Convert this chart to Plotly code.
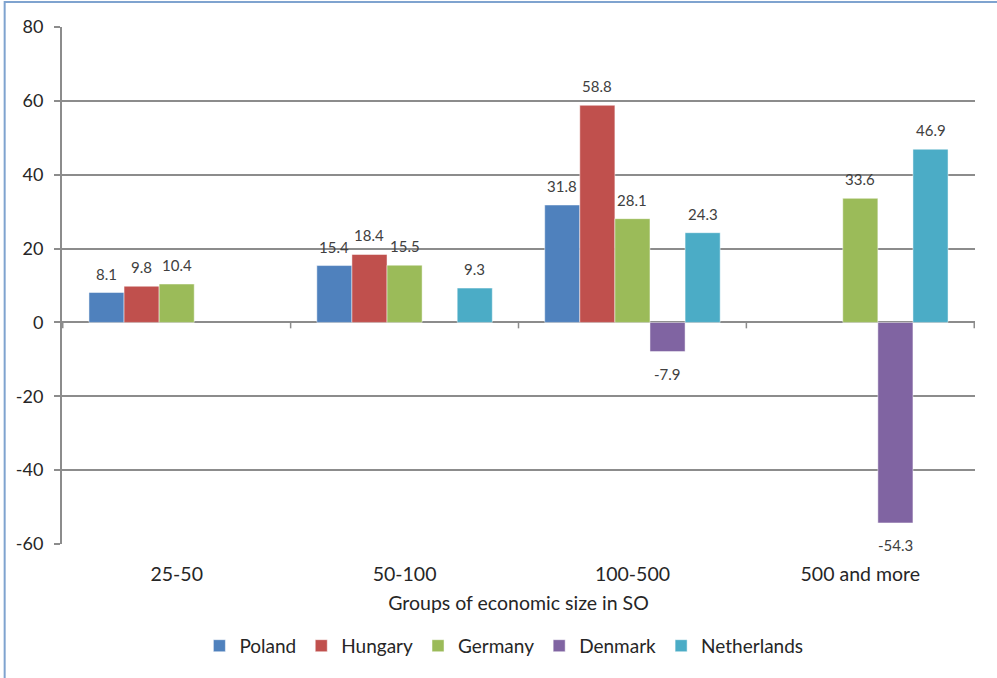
import plotly.graph_objects as go

# Change by group of economic size (SO), per country
categories = ["25-50", "50-100", "100-500", "500 and more"]
poland = [8.1, 15.4, 31.8, None]
hungary = [9.8, 18.4, 58.8, None]
germany = [10.4, 15.5, 28.1, 33.6]
denmark = [None, None, -7.9, -54.3]
netherlands = [None, 9.3, 24.3, 46.9]

series = [
    ("Poland", poland, "#4F81BD"),
    ("Hungary", hungary, "#C0504D"),
    ("Germany", germany, "#9BBB59"),
    ("Denmark", denmark, "#8064A2"),
    ("Netherlands", netherlands, "#4BACC6"),
]

y_ticks = [-60, -40, -20, 0, 20, 40, 60, 80]
FONT = "Lato"
TXT = "#262626"
GRID = "#8C8C8C"

W, H = 997, 678
ML, MR, MT, MB = 62, 22, 27, 134
BARGAP = 0.23

fig = go.Figure()
for name, vals, color in series:
    fig.add_trace(go.Bar(
        name=name,
        x=categories,
        y=vals,
        marker=dict(color=color, line=dict(color="rgba(255,255,255,0.6)", width=0.8)),
        cliponaxis=False,
    ))

# value labels, offset to sit over (or under) their own bar in the group
cat_px = (W - ML - MR) / len(categories)
bar_px = cat_px * (1 - BARGAP) / len(series)
for i, (name, vals, color) in enumerate(series):
    dx = (i - (len(series) - 1) / 2) * bar_px
    for cat, v in zip(categories, vals):
        if v is None:
            continue
        fig.add_annotation(
            x=cat, y=v, xref="x", yref="y", text=f"{v}", showarrow=False,
            xshift=dx, yshift=19 if v >= 0 else -22, yanchor="middle",
            font=dict(family=FONT, size=15, color="#404040"),
        )

# small tick marks on the zero line at the category boundaries
for k in range(len(categories) + 1):
    fig.add_shape(type="line", xref="x", yref="y",
                  x0=k - 0.5, x1=k - 0.5, y0=0, y1=-1.6,
                  line=dict(color=GRID, width=1.5))

# outer chart border
fig.add_shape(type="rect", xref="paper", yref="paper",
              x0=-0.0628, x1=1.2, y0=-0.5, y1=1.0484,
              line=dict(color="#7FA3CF", width=2), layer="below")

fig.update_layout(
    width=W, height=H,
    margin=dict(l=ML, r=MR, t=MT, b=MB),
    paper_bgcolor="white", plot_bgcolor="white",
    barmode="group", bargap=BARGAP, bargroupgap=0,
    font=dict(family=FONT, color=TXT, size=17),
    showlegend=True,
    legend=dict(orientation="h", x=0.484, xanchor="center", y=-0.197, yanchor="middle",
                font=dict(family=FONT, size=19, color=TXT),
                itemwidth=30, traceorder="normal"),
    xaxis=dict(
        type="category", showgrid=False, showline=False, ticks="",
        ticklabelstandoff=16,
        tickfont=dict(family=FONT, size=19.5, color=TXT),
        title=dict(text="Groups of economic size in SO", standoff=12,
                   font=dict(family=FONT, size=19.5, color=TXT)),
    ),
    yaxis=dict(
        range=[-60, 80], tickvals=y_ticks, ticktext=[str(v) for v in y_ticks],
        showgrid=True, gridcolor=GRID, gridwidth=1.5,
        zeroline=True, zerolinecolor=GRID, zerolinewidth=2,
        showline=True, linecolor=GRID, linewidth=2,
        ticks="outside", ticklen=6, tickcolor=GRID, tickwidth=1.5,
        ticklabelstandoff=7,
        tickfont=dict(family=FONT, size=18, color=TXT),
    ),
)

fig.write_html("out.html")
